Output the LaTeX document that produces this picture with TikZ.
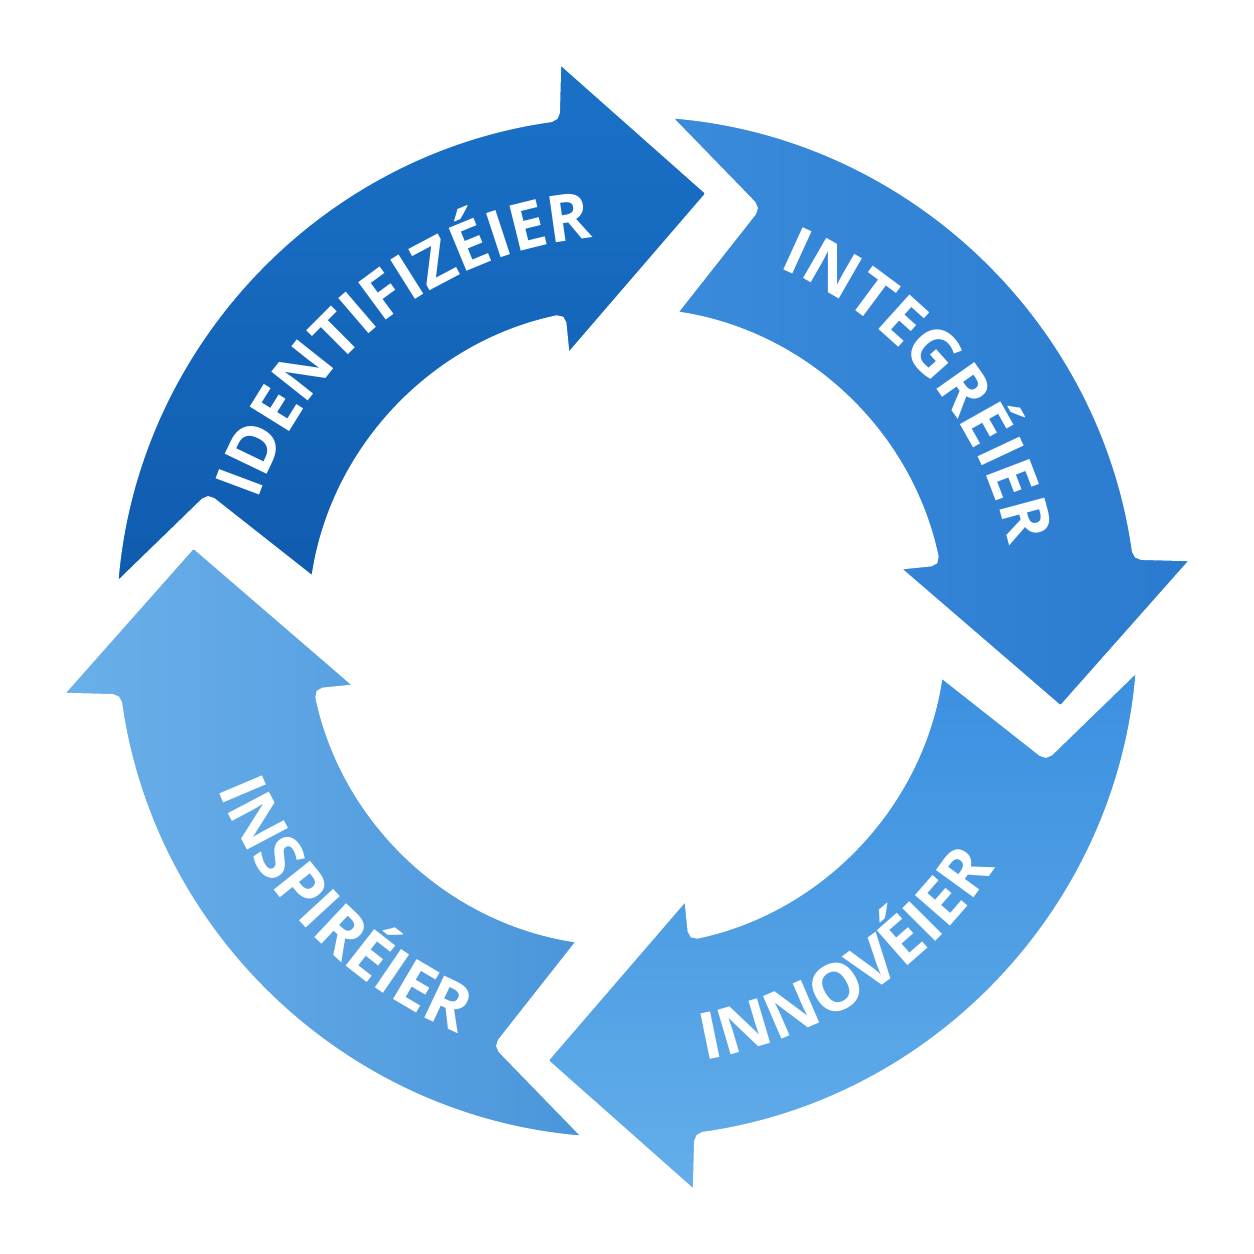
\documentclass[tikz,border=0pt]{standalone}
\usepackage{fontspec}
\newfontfamily\arrfont{Open Sans}
\usetikzlibrary{decorations.text}
\definecolor{cA}{HTML}{0F5BAE}\definecolor{cA2}{HTML}{1A72C8}
\definecolor{cB}{HTML}{2A7BCF}\definecolor{cB2}{HTML}{3A8BDB}
\definecolor{cC}{HTML}{3A8FDF}\definecolor{cC2}{HTML}{64AEEA}
\definecolor{cD}{HTML}{4A95DA}\definecolor{cD2}{HTML}{6AB0EA}
\tikzset{
 arr/.style={draw=white,line width=9pt,rounded corners=5pt},
 lab/.style={decorate,decoration={text along path,text align=center,
   text={|\arrfont\bfseries\fontsize{65}{65}\selectfont\color{white}|#1}}},
}
\newcommand{\arrowshape}[3]{%
 \begin{scope}[rotate=#1]
 \path[arr,left color=#2,right color=#3,shading angle=#1]
  (176:515) arc[start angle=176,end angle=98,radius=515] -- (97:575) -- (79:442)
  -- (103:272) -- (102:315) arc[start angle=102,end angle=172,radius=315]
  -- (163:438) -- cycle;
 \end{scope}}
\begin{document}
\begin{tikzpicture}[x=1pt,y=1pt]
\useasboundingbox (0,0) rectangle (1254,1254);
\fill[white] (0,0) rectangle (1254,1254);
\begin{scope}[shift={(627,627)}]
\arrowshape{0}{cA2}{cA}
\arrowshape{-90}{cB}{cB2}
\arrowshape{-180}{cC2}{cC}
\arrowshape{-270}{cD2}{cD}
\path[lab=IDENTIFIZÉIER] (180:390) arc[start angle=180,end angle=76,radius=390];
\path[lab=INTEGRÉIER] (92:390) arc[start angle=92,end angle=-13,radius=390];
\path[lab=INNOVÉIER] (-108:440) arc[start angle=-108,end angle=-5,radius=440];
\path[lab=INSPIRÉIER] (172:440) arc[start angle=172,end angle=277,radius=440];
\end{scope}
\end{tikzpicture}
\end{document}
